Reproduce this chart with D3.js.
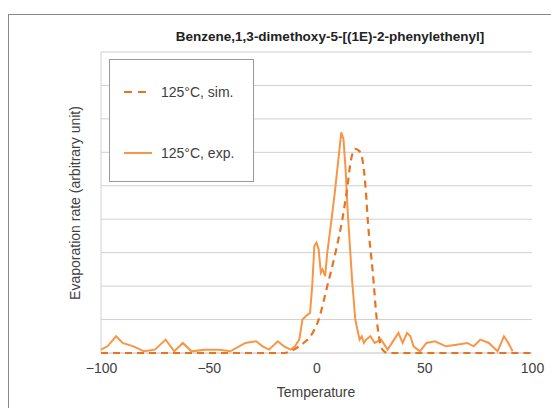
<!DOCTYPE html>
<html><head><meta charset="utf-8">
<script src="https://cdn.jsdelivr.net/npm/d3@7"></script>
<style>body{margin:0;background:#fff}text{font-family:"Liberation Sans",Arial,sans-serif}</style>
</head><body><svg id="c" width="551" height="408"></svg>
<script>
const xTicks=[-100,-50,0,50,100];
const expT=[-100,-97,-93,-90,-85,-80,-75,-70,-66,-62,-58,-52,-45,-40,-33,-28,-25,-22,-18,-15,-12,-10,-8,-6.5,-5,-3,-2,-1,0,1,2,2.8,4,5,6,7,8.5,10.5,11.5,12.5,13.5,14.5,15.5,16.5,18,20,21,22,23,25,27,30,33,36,38,40,42,43.6,45,48,51,55,60,65,70,73,76,80,84,87,89,91];
const expV=[0.1,0.2,0.5,0.3,0.2,0.05,0.1,0.4,0.05,0.3,0.05,0.1,0.1,0.05,0.3,0.35,0.2,0.1,0.35,0.2,0.1,0.2,0.4,1.0,1.1,1.2,2.0,3.2,3.3,3.1,2.4,2.5,2.3,3.0,3.5,4.0,4.8,6.0,6.6,6.4,5.5,4.2,3.2,2.2,1.0,0.4,0.5,0.3,0.4,0.5,0.3,0.4,0.1,0.4,0.6,0.3,0.6,0.5,0.2,0.05,0.3,0.35,0.2,0.25,0.3,0.2,0.4,0.3,0.05,0.5,0.3,0.05];
const simT=[-100,-15,-10.7,-6,-2.8,1,5,8.8,12,14.4,15.8,18,20.4,22.7,24,26,28.3,30.6,33,100];
const simV=[0,0,0.1,0.3,0.5,1.0,2.0,3.0,4.0,5.0,5.7,6.1,6.0,5.0,3.8,2.5,0.8,0.1,0,0];
const svg=d3.select("#c");
svg.append("rect").attr("x",8.5).attr("y",14.5).attr("width",600).attr("height",500).attr("fill","none").attr("stroke","#888");
const x=d3.scaleLinear().domain([-100,100]).range([101,532]);
const y=d3.scaleLinear().domain([0,9]).range([353,52]);
const g=svg.append("g");
d3.range(1,10).forEach(v=>g.append("line").attr("x1",101).attr("x2",532).attr("y1",y(v)).attr("y2",y(v)).attr("stroke","#d0d0d0"));
g.append("line").attr("x1",101).attr("x2",101).attr("y1",52).attr("y2",353).attr("stroke","#d0d0d0");
g.append("line").attr("x1",101).attr("x2",532).attr("y1",353).attr("y2",353).attr("stroke","#c0c0c0");
const ax=svg.append("g").attr("transform","translate(0,353)").call(d3.axisBottom(x).tickValues(xTicks).tickSize(0).tickPadding(10));
ax.select(".domain").remove();
ax.selectAll("text").attr("font-size",14).attr("fill","#404040").style("font-family","Liberation Sans,Arial");
const line=d3.line().x(d=>x(d[0])).y(d=>y(d[1]));
svg.append("path").datum(expT.map((t,i)=>[t,expV[i]])).attr("d",line).attr("fill","none").attr("stroke","#F79646").attr("stroke-width",2);
svg.append("path").datum(simT.map((t,i)=>[t,simV[i]])).attr("d",line.curve(d3.curveMonotoneX)).attr("fill","none").attr("stroke","#E8741F").attr("stroke-width",2.2).attr("stroke-dasharray","7,5");
svg.append("text").attr("x",330).attr("y",41).attr("text-anchor","middle").attr("font-size",13.5).attr("font-weight","bold").attr("fill","#222").text("Benzene,1,3-dimethoxy-5-[(1E)-2-phenylethenyl]");
svg.append("text").attr("transform","translate(80,203) rotate(-90)").attr("text-anchor","middle").attr("font-size",14).attr("fill","#404040").text("Evaporation rate (arbitrary unit)");
svg.append("text").attr("x",316).attr("y",397).attr("text-anchor","middle").attr("font-size",14).attr("fill","#404040").text("Temperature");
svg.append("rect").attr("x",109.5).attr("y",59.5).attr("width",144).attr("height",122).attr("fill","#fff").attr("stroke","#999");
svg.append("line").attr("x1",124).attr("x2",152).attr("y1",92).attr("y2",92).attr("stroke","#E8741F").attr("stroke-width",2.2).attr("stroke-dasharray","8,6");
svg.append("text").attr("x",161).attr("y",97).attr("font-size",14).attr("fill","#404040").text("125°C, sim.");
svg.append("line").attr("x1",124).attr("x2",152).attr("y1",153).attr("y2",153).attr("stroke","#F79646").attr("stroke-width",2);
svg.append("text").attr("x",161).attr("y",158).attr("font-size",14).attr("fill","#404040").text("125°C, exp.");
</script></body></html>
